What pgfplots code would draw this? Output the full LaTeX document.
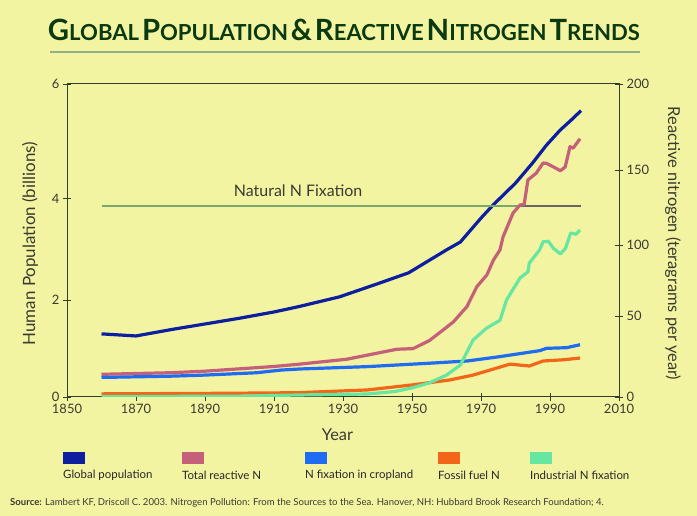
\documentclass[border=0pt]{standalone}
\usepackage{pgfplots}
\pgfplotsset{compat=1.18}
\usepackage{fontspec}
\setmainfont{Lato}
\definecolor{bg}{HTML}{F3F4A2}
\definecolor{titlegreen}{HTML}{0B3A10}
\definecolor{rulegreen}{HTML}{8FB088}
\definecolor{axisc}{HTML}{2F3F2A}
\definecolor{txt}{HTML}{3A3A30}
\definecolor{popc}{HTML}{0D1F9E}
\definecolor{totc}{HTML}{C5607A}
\definecolor{cropc}{HTML}{1F6BF2}
\definecolor{fosc}{HTML}{F2661A}
\definecolor{indc}{HTML}{66E6A0}
\definecolor{natc}{HTML}{78A86C}
\newcommand{\SC}[2]{{\fontsize{24.5}{24}\selectfont #1}{\fontsize{18.5}{18}\selectfont #2}}
\begin{document}
\begin{tikzpicture}[x=1bp,y=1bp]
\fill[bg] (0,0) rectangle (697,516);
\node[anchor=center, text=titlegreen, font=\bfseries, inner sep=0] at (344,486) {\resizebox{592bp}{!}{\SC{G}{LOBAL} \SC{P}{OPULATION} {\fontsize{24.5}{24}\selectfont\&} \SC{R}{EACTIVE} \SC{N}{ITROGEN} \SC{T}{RENDS}}};
\draw[rulegreen, line width=1.6bp] (50,464) -- (640,464);

\begin{axis}[
  at={(67bp,119bp)}, anchor=south west, scale only axis,
  width=552bp, height=313bp,
  xmin=1850, xmax=2010, ymin=0, ymax=6,
  xtick={1850,1870,...,2010},
  ytick={0,1.86,3.80,6}, yticklabels={0,2,4,6},
  xtick pos=bottom, ytick pos=left, tick align=center,
  major tick length=8bp,
  axis line style={axisc, line width=1bp},
  every tick/.style={axisc, line width=0.8bp},
  /pgf/number format/1000 sep=,
  /pgf/number format/assume math mode=true,
  tick label style={font=\fontsize{13}{14}\selectfont, text=txt},
  xlabel={Year}, ylabel={Human Population (billions)},
  xlabel style={at={(axis description cs:0.49,-0.121)}, anchor=center, font=\fontsize{16.5}{17}\selectfont, text=txt},
  ylabel style={at={(axis description cs:-0.067,0.49)}, anchor=center, rotate=0, font=\fontsize{17}{17}\selectfont, text=txt},
]
\addplot[popc, line width=3.2bp, line join=round] coordinates {
(1860,1.21)(1870,1.17)(1880,1.29)(1890,1.40)(1900,1.51)(1910,1.63)(1917,1.73)(1929,1.92)(1940,2.17)(1949,2.38)(1956,2.66)(1960,2.82)(1964,2.97)(1970,3.43)(1973.5,3.68)(1980,4.10)(1985,4.49)(1989,4.83)(1993,5.12)(1996,5.30)(1999,5.49)};
\end{axis}

\begin{axis}[
  at={(67bp,119bp)}, anchor=south west, scale only axis,
  width=552bp, height=313bp,
  xmin=1850, xmax=2010, ymin=0, ymax=200,
  hide x axis, axis y line*=right,
  ytick={0,51.8,97.1,145,200}, yticklabels={0,50,100,150,200},
  tick align=center, major tick length=8bp,
  axis line style={axisc, line width=1bp},
  every tick/.style={axisc, line width=0.8bp},
  /pgf/number format/assume math mode=true,
  tick label style={font=\fontsize{13}{14}\selectfont, text=txt},
  ylabel={Reactive nitrogen (teragrams per year)},
  ylabel style={at={(axis description cs:1.098,0.49)}, anchor=center, rotate=180, font=\fontsize{16.5}{17}\selectfont, text=txt},
]
\addplot[natc, line width=1.3bp] coordinates {(1860,122)(1981,122)};
\addplot[black!60, line width=1.3bp] coordinates {(1981,122)(1999,122)};
\node[font=\fontsize{16}{17}\selectfont, text=txt] at (axis cs:1917,132) {Natural N Fixation};
\addplot[totc, line width=3.2bp, line join=round] coordinates {
(1860,14.5)(1880,15.5)(1890,16.5)(1900,18)(1910,19.5)(1917,20.9)(1931,24.1)(1945.6,30.5)(1950.3,30.9)(1955,36)(1959,42.8)(1962,48)(1965.9,57.7)(1968.8,70.5)(1971.7,78)(1973.6,87.5)(1975.5,94)(1976.4,102.4)(1979.3,117.6)(1981.3,122.7)(1982.5,123)(1983.6,138.7)(1986,143)(1988,149.5)(1989,149.3)(1991,147)(1993,144.6)(1994.4,147)(1995.8,160)(1996.7,159)(1998.7,165)};
\addplot[cropc, line width=3.2bp, line join=round] coordinates {
(1860,12.5)(1880,13.3)(1890,14)(1905,15.5)(1912,17.2)(1917.5,17.9)(1937,19.4)(1956,21.7)(1966,23)(1975.5,25.8)(1987,29.6)(1989,31.1)(1994.8,31.5)(1998.7,33.4)};
\addplot[fosc, line width=3.2bp, line join=round] coordinates {
(1860,2)(1890,2.3)(1910,2.6)(1917.5,2.8)(1937,4.5)(1950,7.7)(1961,10.9)(1967.7,14)(1978.4,21)(1984,19.8)(1988,23)(1994,23.8)(1998.7,24.9)};
\addplot[indc, line width=3.2bp, line join=round] coordinates {
(1860,0.3)(1900,0.5)(1917.5,1.3)(1937,1.9)(1945,3.5)(1950,5.8)(1955,9)(1960,14)(1964,20.4)(1967.7,36.4)(1971.6,44)(1975.5,49)(1977.4,62)(1981.3,76)(1983.6,80)(1984,85.6)(1987,94)(1988,99.2)(1989.5,99.5)(1991,95)(1993,91.4)(1994.5,95)(1996,104.8)(1997.5,104)(1998.7,106.7)};
\end{axis}

% legend
\begin{scope}[every node/.style={anchor=west, font=\fontsize{11.5}{12}\selectfont, text=black!85, inner sep=0}]
\fill[popc] (63,52) rectangle (85,64);   \node at (63,41) {Global population};
\fill[totc] (182,52) rectangle (204,64); \node at (182,41) {Total reactive N};
\fill[cropc] (305,52) rectangle (327,64); \node at (305,41) {N fixation in cropland};
\fill[fosc] (438,52) rectangle (460,64); \node at (438,41) {Fossil fuel N};
\fill[indc] (530,52) rectangle (552,64); \node at (530,41) {Industrial N fixation};
\end{scope}
\node[anchor=west, inner sep=0, font=\fontsize{9.6}{10}\selectfont, text=txt] at (10,13) {\textbf{Source:} Lambert KF, Driscoll C. 2003. Nitrogen Pollution: From the Sources to the Sea. Hanover, NH: Hubbard Brook Research Foundation; 4.};
\end{tikzpicture}
\end{document}
